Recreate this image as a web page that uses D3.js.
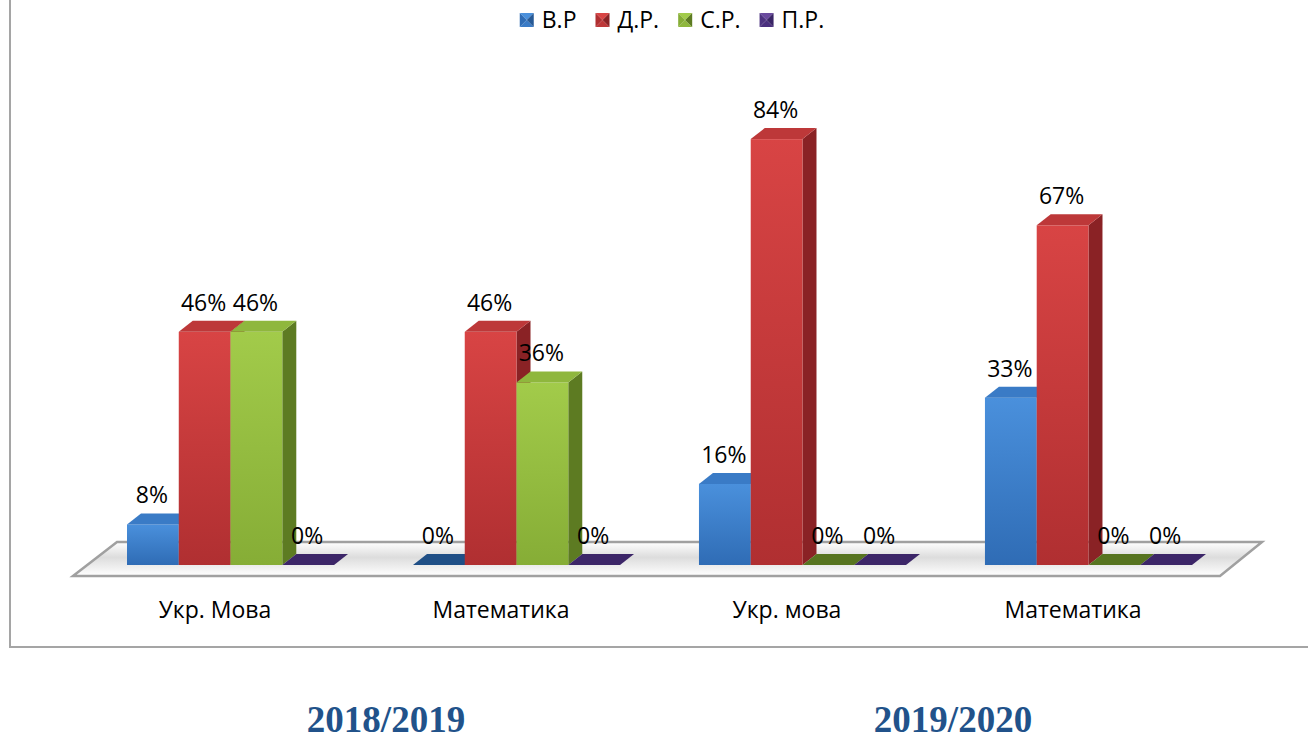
<!DOCTYPE html>
<html>
<head>
<meta charset="utf-8">
<script src="https://cdn.jsdelivr.net/npm/d3@7"></script>
<style>
  body { margin: 0; background: #fff; }
  svg { display: block; }
  text { font-family: "Open Sans", "Noto Sans", sans-serif; fill: #000; }
</style>
</head>
<body>
<svg width="1308" height="739"></svg>
<script>
var categories = ['Укр. Мова', 'Математика', 'Укр. мова ', 'Математика '];
var seriesNames = ['В.Р', 'Д.Р.', 'С.Р.', 'П.Р.'];
var vr = [8, 0, 16, 33];
var dr = [46, 46, 84, 67];
var sr = [46, 36, 0, 0];
var pr = [0, 0, 0, 0];
var years = ['2018/2019', '2019/2020'];

var seriesValues = [vr, dr, sr, pr];
var colors = [
  { front: ['#4a90dc', '#2f6cb5'], side: '#275a96', top: '#3a7bc6', flat: '#1f4f86' },
  { front: ['#d84444', '#b02f31'], side: '#8a2225', top: '#bd3839', flat: '#7e1f22' },
  { front: ['#a2cb4a', '#86ad36'], side: '#5d7b22', top: '#8fb73d', flat: '#577420' },
  { front: ['#6a4a9e', '#4d3380'], side: '#3a2566', top: '#4a2f7e', flat: '#3c2668' }
];

var svg = d3.select('svg');
var defs = svg.append('defs');
var depthX = 14, depthY = -11;
var baseY = 565;
var fontSize = 23;

var x = d3.scaleBand().domain(categories).range([127, 1192]).paddingInner(0.276);
var xs = d3.scaleBand().domain(seriesNames).range([0, x.bandwidth()]);
var y = d3.scaleLinear().domain([0, 100]).range([baseY, 58]);

// frame
svg.append('rect')
  .attr('x', 10).attr('y', -5).attr('width', 1310).attr('height', 652)
  .attr('fill', 'none').attr('stroke', '#a5a5a5').attr('stroke-width', 2);

// gradients
colors.forEach(function(c, i){
  var g = defs.append('linearGradient').attr('id', 'front' + i)
    .attr('x1', 0).attr('y1', 0).attr('x2', 0).attr('y2', 1);
  g.append('stop').attr('offset', '0%').attr('stop-color', c.front[0]);
  g.append('stop').attr('offset', '100%').attr('stop-color', c.front[1]);
});
var fg = defs.append('linearGradient').attr('id', 'floorShade')
  .attr('x1', 0).attr('y1', 0).attr('x2', 0).attr('y2', 1);
fg.append('stop').attr('offset', '0%').attr('stop-color', '#ffffff');
fg.append('stop').attr('offset', '45%').attr('stop-color', '#d4d4d4');
fg.append('stop').attr('offset', '100%').attr('stop-color', '#ffffff');

// floor
var x0 = x.range()[0], x1 = x.range()[1];
var floorPts = [[x0 - 54, 576], [x0 - 10, 542], [x1 + 70, 542], [x1 + 28, 576]];
svg.append('polygon')
  .attr('points', floorPts.map(function(p){ return p.join(','); }).join(' '))
  .attr('fill', 'url(#floorShade)').attr('fill-opacity', 0.8)
  .attr('stroke', '#a0a0a0').attr('stroke-width', 2.5)
  .attr('stroke-linejoin', 'miter');

// bars
var bars = [];
categories.forEach(function(cat, ci){
  seriesNames.forEach(function(s, si){
    bars.push({ cat: cat, series: s, si: si, value: seriesValues[si][ci] });
  });
});

var barG = svg.selectAll('g.bar').data(bars).enter().append('g').attr('class', 'bar');

barG.each(function(d){
  var g = d3.select(this);
  var bx = x(d.cat) + xs(d.series);
  var w = xs.bandwidth();
  var top = y(d.value);
  var c = colors[d.si];
  if (d.value > 0) {
    g.append('polygon')
      .attr('points', [[bx + w, top], [bx + w + depthX, top + depthY],
        [bx + w + depthX, baseY + depthY], [bx + w, baseY]].join(' '))
      .attr('fill', c.side);
    g.append('rect')
      .attr('x', bx).attr('y', top).attr('width', w).attr('height', baseY - top)
      .attr('fill', 'url(#front' + d.si + ')');
  }
  g.append('polygon')
    .attr('points', [[bx, top], [bx + depthX, top + depthY],
      [bx + w + depthX, top + depthY], [bx + w, top]].join(' '))
    .attr('fill', d.value > 0 ? c.top : c.flat);
});

// value labels
svg.selectAll('text.val').data(bars).enter().append('text')
  .attr('class', 'val')
  .attr('x', function(d){ return x(d.cat) + xs(d.series) + xs.bandwidth() / 2 - 1; })
  .attr('y', function(d){ return y(d.value) + depthY - 10; })
  .attr('text-anchor', 'middle')
  .attr('font-size', fontSize)
  .text(function(d){ return d.value + '%'; });

// category labels
svg.selectAll('text.cat').data(categories).enter().append('text')
  .attr('class', 'cat')
  .attr('x', function(d){ return x(d) + 88; })
  .attr('y', 618)
  .attr('text-anchor', 'middle')
  .attr('font-size', fontSize)
  .text(function(d){ return d.trim(); });

// legend
var legend = svg.append('g');
var lx = 0;
var items = legend.selectAll('g').data(seriesNames).enter().append('g');
items.each(function(d, i){
  var g = d3.select(this);
  var c = colors[i];
  var s = 14;
  g.append('polygon').attr('points', [[0,0],[s,0],[s/2,s/2]].join(' ')).attr('fill', c.front[0]);
  g.append('polygon').attr('points', [[0,s],[s,s],[s/2,s/2]].join(' ')).attr('fill', c.top);
  g.append('polygon').attr('points', [[0,0],[0,s],[s/2,s/2]].join(' ')).attr('fill', c.front[1]);
  g.append('polygon').attr('points', [[s,0],[s,s],[s/2,s/2]].join(' ')).attr('fill', c.side);
  var t = g.append('text').attr('x', 22).attr('y', 15).attr('font-size', fontSize).text(d);
  g.attr('transform', 'translate(' + lx + ',13)');
  lx += 22 + t.node().getComputedTextLength() + 19;
});
legend.attr('transform', 'translate(' + (672 - (lx - 19) / 2) + ',0)');

// year captions
svg.selectAll('text.year').data(years).enter().append('text')
  .attr('class', 'year')
  .attr('x', function(d, i){ return [386, 953][i]; })
  .attr('y', 732)
  .attr('text-anchor', 'middle')
  .style('font-family', '"Liberation Serif", "Times New Roman", serif')
  .style('font-weight', 'bold')
  .style('fill', '#21528a')
  .attr('font-size', 37)
  .text(function(d){ return d; });
</script>
</body>
</html>
